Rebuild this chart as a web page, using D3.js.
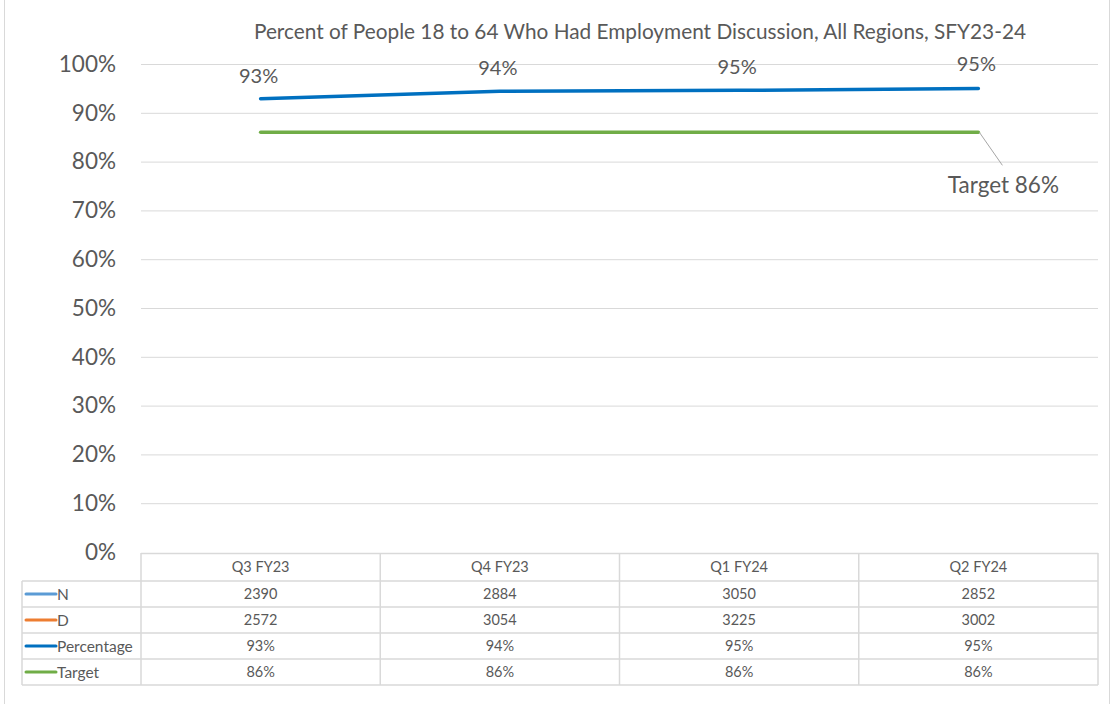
<!DOCTYPE html>
<html><head><meta charset="utf-8">
<script src="https://cdn.jsdelivr.net/npm/d3@7"></script>
<style>body{margin:0;background:#fff;} svg{display:block;font-family:Lato,"Open Sans",sans-serif;}</style>
</head><body><svg id="c" width="1112" height="704"></svg>
<script>
const categories = ["Q3 FY23","Q4 FY23","Q1 FY24","Q2 FY24"];
const nValues = [2390,2884,3050,2852];
const dValues = [2572,3054,3225,3002];
const percentValues = [0.929,0.944,0.946,0.950];
const targetValues = [0.86,0.86,0.86,0.86];
const yTicks = [0,0.1,0.2,0.3,0.4,0.5,0.6,0.7,0.8,0.9,1.0];
const title = "Percent of People 18 to 64 Who Had Employment Discussion, All Regions, SFY23-24";

(function(){
const svg = d3.select("#c");
const W = 1112, H = 704;
const pLeft = 141, pRight = 1098, pTop = 64, pBottom = 552;
const textCol = "#595959", gridCol = "#d9d9d9";

svg.append("rect").attr("x",4.5).attr("y",-2).attr("width",W-7).attr("height",H+4)
  .attr("fill","none").attr("stroke",gridCol);

const x = d3.scaleBand().domain(categories).range([pLeft,pRight]);
const y = d3.scaleLinear().domain([0,1]).range([pBottom,pTop]);

svg.append("text").attr("x",640).attr("y",39).attr("text-anchor","middle")
  .attr("fill",textCol).attr("font-size",20.8).text(title);

const yAxis = d3.axisLeft(y).tickValues(yTicks).tickFormat(d3.format(".0%")).tickSize(-(pRight-pLeft)).tickPadding(25);
const gy = svg.append("g").attr("transform",`translate(${pLeft},0)`).call(yAxis);
gy.select(".domain").remove();
gy.selectAll(".tick line").attr("stroke",gridCol).attr("stroke-width",1);
gy.selectAll(".tick text").attr("fill",textCol).attr("font-size",22.5).attr("font-family","Lato,'Open Sans',sans-serif");
gy.selectAll(".tick").filter(d=>d===0).select("line").remove();

const cx = d => x(d)+x.bandwidth()/2;
const line = d3.line().x(d=>cx(d[0])).y(d=>y(d[1]));

svg.append("path").datum(categories.map((c,i)=>[c,targetValues[i]]))
  .attr("d",line).attr("fill","none").attr("stroke","#70AD47").attr("stroke-width",3.5).attr("stroke-linecap","round");
svg.append("path").datum(categories.map((c,i)=>[c,percentValues[i]]))
  .attr("d",line).attr("fill","none").attr("stroke","#0070C0").attr("stroke-width",3.5).attr("stroke-linecap","round");

const labelDy = [-16,-16,-16,-17];
svg.selectAll(".dl").data(categories).enter().append("text")
  .attr("x",d=>cx(d)-2).attr("y",(d,i)=>y(percentValues[i])+labelDy[i])
  .attr("text-anchor","middle").attr("fill",textCol).attr("font-size",20)
  .text((d,i)=>d3.format(".0%")(percentValues[i]));

const lc = categories[3];
svg.append("line").attr("x1",cx(lc)+1).attr("y1",y(targetValues[3])).attr("x2",cx(lc)+24).attr("y2",y(targetValues[3])+33)
  .attr("stroke","#a6a6a6").attr("stroke-width",1);
svg.append("text").attr("x",cx(lc)+25).attr("y",y(targetValues[3])+61).attr("text-anchor","middle")
  .attr("fill",textCol).attr("font-size",22.5).text("Target "+d3.format(".0%")(targetValues[3]));

const rowsLabels = ["N","D","Percentage","Target"];
const rowColors = ["#5B9BD5","#ED7D31","#0070C0","#70AD47"];
const rowData = [nValues.map(String), dValues.map(String), percentValues.map(d3.format(".0%")), targetValues.map(d3.format(".0%"))];
const tableLeft = 22, headerTop = 553, headerH = 28, rowH = 26;
const tb = svg.append("g");
tb.append("line").attr("x1",pLeft).attr("x2",pRight).attr("y1",headerTop+0.5).attr("y2",headerTop+0.5).attr("stroke",gridCol).attr("stroke-width",1.5);
const rowTops = rowsLabels.map((r,i)=>headerTop+headerH+i*rowH);
const tableBottom = headerTop+headerH+rowsLabels.length*rowH;
[...rowTops, tableBottom].forEach(yy=>{
  tb.append("line").attr("x1",tableLeft).attr("x2",pRight).attr("y1",yy).attr("y2",yy).attr("stroke",gridCol).attr("stroke-width",1.5);
});
tb.append("line").attr("x1",tableLeft).attr("x2",tableLeft).attr("y1",rowTops[0]).attr("y2",tableBottom).attr("stroke",gridCol).attr("stroke-width",1.5);
categories.forEach(c=>{
  tb.append("line").attr("x1",x(c)).attr("x2",x(c)).attr("y1",headerTop).attr("y2",tableBottom).attr("stroke",gridCol).attr("stroke-width",1.5);
});
tb.append("line").attr("x1",pRight).attr("x2",pRight).attr("y1",headerTop).attr("y2",tableBottom).attr("stroke",gridCol).attr("stroke-width",1.5);
categories.forEach(c=>{
  tb.append("text").attr("x",cx(c)).attr("y",headerTop+headerH/2+5).attr("text-anchor","middle")
    .attr("fill",textCol).attr("font-size",14.5).text(c);
});
rowsLabels.forEach((r,i)=>{
  const ym = rowTops[i]+rowH/2;
  tb.append("line").attr("x1",26).attr("x2",56).attr("y1",ym).attr("y2",ym).attr("stroke",rowColors[i]).attr("stroke-width",3).attr("stroke-linecap","round");
  tb.append("text").attr("x",57).attr("y",ym+5.5).attr("fill",textCol).attr("font-size",15.5).text(r);
  categories.forEach((c,j)=>{
    tb.append("text").attr("x",cx(c)).attr("y",ym+5).attr("text-anchor","middle").attr("fill",textCol).attr("font-size",14.5).text(rowData[i][j]);
  });
});
})();
</script></body></html>
